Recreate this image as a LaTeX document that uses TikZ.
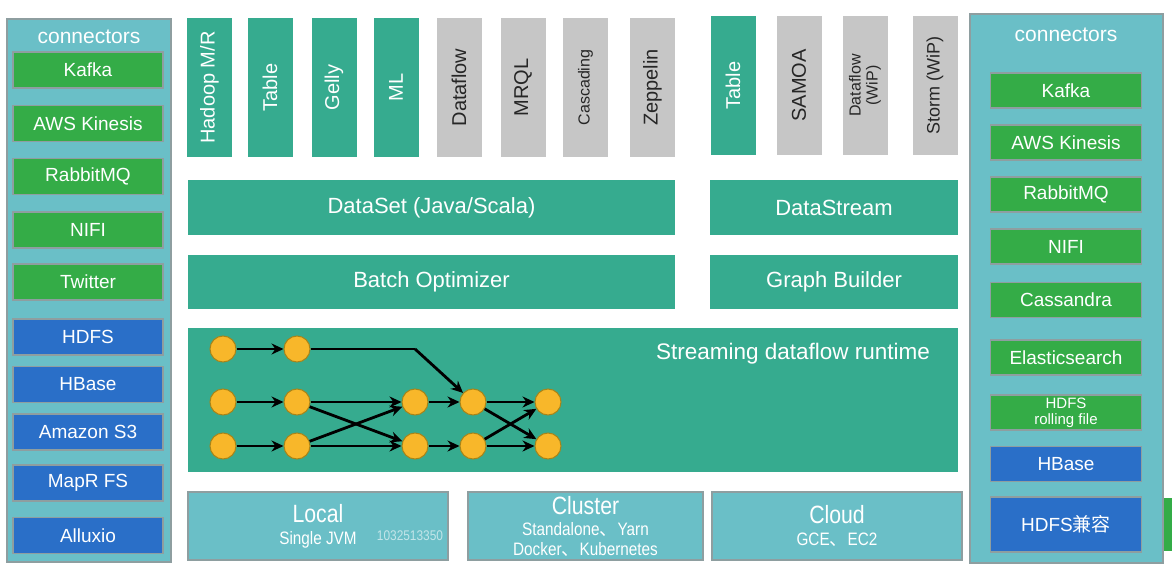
\documentclass[tikz,border=0pt]{standalone}
\usepackage{fontspec}
\setmainfont{Liberation Sans}
\newfontfamily\narrowfont[FakeStretch=0.85]{Liberation Sans}
\newfontfamily\cjkfont{Noto Sans CJK SC}
\usetikzlibrary{arrows.meta}
\definecolor{flinkgreen}{HTML}{36AB8F}
\definecolor{apigray}{HTML}{C6C6C6}
\definecolor{panelblue}{HTML}{6ABFC7}
\definecolor{panelline}{HTML}{8E9EA0}
\definecolor{conngreen}{HTML}{34AC47}
\definecolor{storeblue}{HTML}{2A6FC8}
\definecolor{nodeyellow}{HTML}{F8B72A}
\definecolor{nodeedge}{HTML}{A88418}
\tikzset{
    api/.style = {
        fill = flinkgreen, minimum width = 139pt,
        minimum height = 45pt, rotate = 90,
        inner sep = 0pt, align = center, text = white,
        font = \fontsize{20}{22}\selectfont
    },
    lib/.style = {api, fill = apigray, text = black!85},
    layer/.style = {
        fill = flinkgreen, minimum height = 54pt,
        text = white, font = \fontsize{22}{24}\selectfont
    },
    conn/.style = {
        draw = panelline, line width = 1.5pt, fill = conngreen,
        minimum width = 150pt, minimum height = 36pt,
        inner sep = 0pt, align = center, text = white,
        font = \fontsize{19}{21}\selectfont
    },
    store/.style = {conn, fill = storeblue},
    deploy/.style = {
        draw = panelline, line width = 1.2pt, fill = panelblue,
        minimum height = 68pt, align = center, text = white,
        font = \narrowfont\fontsize{18}{20}\selectfont
    },
    task/.style = {
        circle, draw = nodeedge, fill = nodeyellow,
        minimum size = 26pt, inner sep = 0pt, line width = 1pt
    },
    line/.style = {-{Stealth[length = 12pt, width = 11pt]}, line width = 2.8pt}
}
\newcommand{\deploytitle}[1]{{\fontsize{25}{27}\selectfont #1}}
\begin{document}
\begin{tikzpicture}[x = 1pt, y = -1pt]

    % Page
    \fill[white] (0,0) rectangle (1172,580);
    \useasboundingbox (0,0) rectangle (1172,580);

    % Left connectors
    \path[draw = panelline, line width = 1.5pt, fill = panelblue] (7,19) rectangle (171,562);
    \node[text = white, font = \fontsize{21}{23}\selectfont] (lefttitle) at (89,37) {connectors};
    \node[conn] (lkafka) at (88,70) {Kafka};
    \node[conn] (lkinesis) at (88,123.5) {AWS Kinesis};
    \node[conn] (lrabbit) at (88,176.5) {RabbitMQ};
    \node[conn] (lnifi) at (88,230) {NIFI};
    \node[conn] (ltwitter) at (88,282) {Twitter};
    \node[store] (lhdfs) at (88,337) {HDFS};
    \node[store] (lhbase) at (88,384.5) {HBase};
    \node[store] (ls3) at (88,432) {Amazon S3};
    \node[store] (lmapr) at (88,483) {MapR FS};
    \node[store] (lalluxio) at (88,535.5) {Alluxio};

    % Batch libraries
    \node[api] (hadoop) at (209.5,87.5) {Hadoop M/R};
    \node[api] (btable) at (270,87.5) {Table};
    \node[api] (gelly) at (334,87.5) {Gelly};
    \node[api] (ml) at (396,87.5) {ML};
    \node[lib] (bdataflow) at (459,87.5) {Dataflow};
    \node[lib] (mrql) at (523,87.5) {MRQL};
    \node[lib, font = \fontsize{16}{18}\selectfont] (cascading) at (585.5,87.5) {Cascading};
    \node[lib] (zeppelin) at (652.5,87.5) {Zeppelin};

    % Streaming libraries
    \node[api] (stable) at (733,85.5) {Table};
    \node[lib] (samoa) at (799,85.5) {SAMOA};
    \node[lib, font = \fontsize{16}{17}\selectfont] (sdataflow) at (865,85.5) {Dataflow\\(WiP)};
    \node[lib, font = \fontsize{18}{20}\selectfont] (storm) at (935,85.5) {Storm (WiP)};

    % APIs and optimizers
    \node[layer, minimum width = 487pt] (dataset) at (431.5,207.5) {DataSet (Java/Scala)};
    \node[layer, minimum width = 248pt] (datastream) at (834,207.5) {DataStream};
    \node[layer, minimum width = 487pt] (optimizer) at (431.5,281.5) {Batch Optimizer};
    \node[layer, minimum width = 248pt] (builder) at (834,281.5) {Graph Builder};

    % Runtime
    \node[layer, minimum width = 770pt, minimum height = 144pt] (runtime) at (573,400) {};
    \node[text = white, font = \fontsize{22.5}{24}\selectfont] (runlabel) at (793,354) {Streaming dataflow runtime};

    % Tasks
    \node[task] (a1) at (223,349) {};
    \node[task] (a2) at (297,349) {};
    \node[task] (b1) at (223,402) {};
    \node[task] (b2) at (297,402) {};
    \node[task] (b3) at (415,402) {};
    \node[task] (b4) at (473,402) {};
    \node[task] (b5) at (548,402) {};
    \node[task] (c1) at (223,446) {};
    \node[task] (c2) at (297,446) {};
    \node[task] (c3) at (415,446) {};
    \node[task] (c4) at (473,446) {};
    \node[task] (c5) at (548,446) {};
    \coordinate (bend) at (415,349);

    % Data flow
    \draw[line] (a1) -- (a2);
    \draw[line, -] (a2) -- (bend);
    \draw[line] (bend) -- (b4);
    \draw[line] (b1) -- (b2);
    \draw[line] (c1) -- (c2);
    \draw[line] (b2) -- (b3);
    \draw[line] (b2) -- (c3);
    \draw[line] (c2) -- (b3);
    \draw[line] (c2) -- (c3);
    \draw[line] (b3) -- (b4);
    \draw[line] (c3) -- (c4);
    \draw[line] (b4) -- (b5);
    \draw[line] (b4) -- (c5);
    \draw[line] (c4) -- (b5);
    \draw[line] (c4) -- (c5);

    % Deployment
    \node[deploy, minimum width = 260pt] (local) at (318,526) {\deploytitle{Local}\\[2pt]Single JVM};
    \node[text = panelblue!40!white, font = \narrowfont\fontsize{14}{16}\selectfont] (mark) at (410,536) {1032513350};
    \node[deploy, minimum width = 235pt] (cluster) at (585.5,526) {\deploytitle{Cluster}\\[1pt]Standalone{\cjkfont 、}Yarn\\Docker{\cjkfont 、}Kubernetes};
    \node[deploy, minimum width = 250pt] (cloud) at (837,526) {\deploytitle{Cloud}\\[2pt]GCE{\cjkfont 、}EC2};

    % Right connectors
    \path[draw = panelline, line width = 1.5pt, fill = panelblue] (970,14) rectangle (1163,563);
    \node[text = white, font = \fontsize{21}{23}\selectfont] (righttitle) at (1066,35) {connectors};
    \node[conn, minimum width = 151pt, minimum height = 35pt] (rkafka) at (1066,90.5) {Kafka};
    \node[conn, minimum width = 151pt, minimum height = 35pt] (rkinesis) at (1066,142.5) {AWS Kinesis};
    \node[conn, minimum width = 151pt, minimum height = 35pt] (rrabbit) at (1066,194.5) {RabbitMQ};
    \node[conn, minimum width = 151pt, minimum height = 35pt] (rnifi) at (1066,246.5) {NIFI};
    \node[conn, minimum width = 151pt, minimum height = 35pt] (rcassandra) at (1066,300) {Cassandra};
    \node[conn, minimum width = 151pt, minimum height = 35pt] (relastic) at (1066,357.5) {Elasticsearch};
    \node[conn, minimum width = 151pt, minimum height = 35pt, font = \fontsize{15}{16}\selectfont] (rrolling) at (1066,412.5) {HDFS\\rolling file};
    \node[store, minimum width = 151pt, minimum height = 35pt] (rhbase) at (1066,464) {HBase};
    \node[store, minimum width = 151pt, minimum height = 55pt] (rhdfs) at (1066,524.5) {HDFS{\cjkfont 兼容}};

    % Edge of next slide
    \fill[conngreen] (1164,498) rectangle (1172,551);

\end{tikzpicture}
\end{document}
